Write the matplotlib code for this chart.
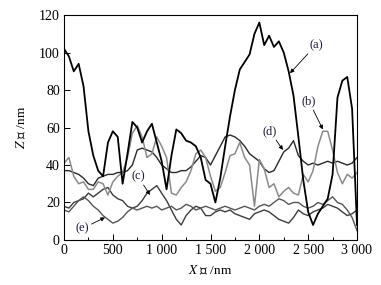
import numpy as np
import matplotlib
matplotlib.use("Agg")
import matplotlib.pyplot as plt

plt.rcParams['font.family'] = ['Liberation Serif', 'Noto Sans CJK SC', 'DejaVu Sans']
plt.rcParams['mathtext.fontset'] = 'stix'

# x positions (nm), one every 50 nm
x = np.arange(0, 3001, 50)

# profiles (nm)
za = [102, 98, 90, 94, 82, 58, 45, 37, 34, 52, 58, 55, 30, 46, 63, 60, 52, 58, 62, 52,
      42, 27, 45, 59, 57, 53, 52, 50, 44, 32, 30, 20, 33, 50, 66, 80, 91, 95, 99, 110,
      116, 104, 109, 103, 106, 100, 90, 77, 55, 32, 15, 8, 14, 18, 22, 35, 76, 85, 87, 70, 8]
zb = [41, 44, 34, 30, 31, 27, 27, 31, 30, 24, 31, 34, 36, 44, 57, 61, 55, 44, 46, 55,
      50, 44, 25, 24, 28, 31, 37, 46, 48, 44, 34, 26, 28, 36, 45, 46, 52, 44, 40, 18,
      43, 38, 28, 30, 23, 26, 28, 25, 24, 35, 31, 37, 50, 58, 58, 48, 36, 30, 35, 33, 36]
zc = [18, 17, 20, 21, 22, 25, 23, 25, 27, 28, 24, 22, 21, 18, 17, 18, 21, 25, 27, 29,
      25, 21, 16, 11, 8, 13, 16, 18, 17, 13, 13, 15, 16, 15, 16, 14, 13, 12, 11, 14,
      15, 16, 15, 13, 11, 10, 9, 12, 16, 14, 13, 15, 16, 17, 19, 18, 17, 15, 13, 14, 16]
zd = [37, 37, 36, 35, 33, 30, 29, 33, 34, 35, 35, 36, 36, 37, 40, 48, 49, 48, 47, 44,
      40, 38, 36, 36, 37, 37, 39, 42, 45, 44, 40, 45, 50, 55, 56, 55, 53, 50, 46, 44,
      42, 38, 36, 37, 42, 47, 49, 53, 45, 42, 40, 41, 40, 41, 42, 41, 42, 41, 40, 41, 44]
ze = [16, 15, 18, 21, 23, 21, 18, 16, 13, 11, 9, 10, 12, 15, 17, 16, 17, 18, 17, 18,
      16, 17, 18, 16, 17, 19, 18, 16, 17, 18, 17, 16, 17, 18, 17, 16, 17, 18, 17, 16,
      18, 19, 18, 20, 22, 21, 19, 20, 20, 18, 17, 18, 20, 19, 21, 23, 20, 19, 16, 12, 5]

xticks = [0, 500, 1000, 1500, 2000, 2500, 3000]
xtick_labels = ['0', '500', '1 000', '1 500', '2 000', '2 500', '3 000']
yticks = [0, 20, 40, 60, 80, 100, 120]

fig = plt.figure(figsize=(3.81, 2.85), dpi=100)
ax = fig.add_axes([0.168, 0.158, 0.769, 0.789])

ax.plot(x, zd, color='#2a2a2a', lw=1.0)
ax.plot(x, zc, color='#3c3c3c', lw=1.0)
ax.plot(x, ze, color='#555555', lw=1.0)
ax.plot(x, zb, color='#8a8a8a', lw=1.1)
ax.plot(x, za, color='black', lw=1.3)

ax.set_xlim(0, 3000)
ax.set_ylim(0, 120)
ax.set_xticks(xticks)
ax.set_xticklabels(xtick_labels)
ax.set_xticks(np.arange(250, 3000, 500), minor=True)
ax.set_yticks(yticks)
ax.tick_params(which='both', direction='in', top=False, right=False,
               labelsize=10, width=0.7, colors='black')
ax.tick_params(which='major', length=4, pad=3)
ax.tick_params(which='minor', length=2)
for s in ax.spines.values():
    s.set_linewidth(0.8)

ax.set_xlabel('$X$ 轴 /nm', fontsize=9.5, labelpad=5)
ax.set_ylabel('$Z$ 轴 /nm', fontsize=9.5, labelpad=8)

arrow = dict(arrowstyle='-|>', lw=0.6, color='black', mutation_scale=6,
             shrinkA=0, shrinkB=0)
tcol = '#1a1a40'
ax.annotate('(a)', xy=(2314, 89), xytext=(2580, 104), fontsize=9, color=tcol,
            ha='center', va='center', arrowprops=arrow)
ax.annotate('(b)', xy=(2650, 59), xytext=(2509, 74), fontsize=9, color=tcol,
            ha='center', va='center', arrowprops=arrow)
ax.annotate('(d)', xy=(2242, 48), xytext=(2109, 58), fontsize=9, color=tcol,
            ha='center', va='center', arrowprops=arrow)
ax.annotate('(c)', xy=(880, 24), xytext=(758, 34), fontsize=9, color=tcol,
            ha='center', va='center', arrowprops=arrow)
ax.annotate('(e)', xy=(420, 12), xytext=(184, 6), fontsize=9, color=tcol,
            ha='center', va='center', arrowprops=arrow)

fig.savefig('out.png', dpi=100)
